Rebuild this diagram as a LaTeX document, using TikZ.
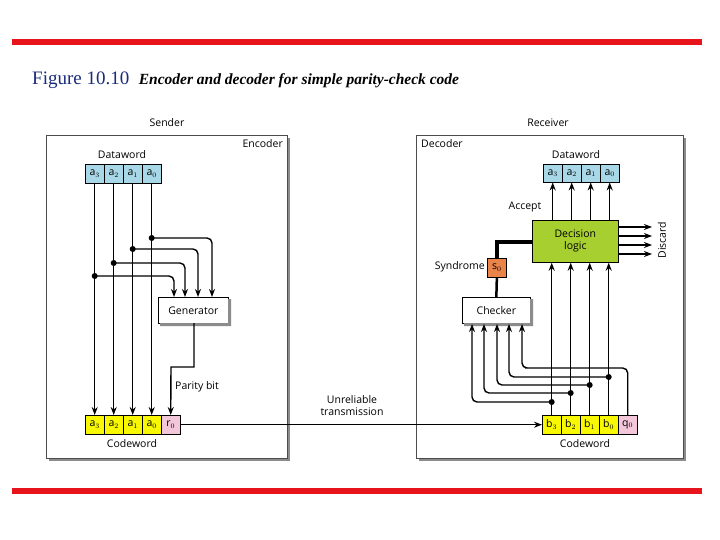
\documentclass[tikz,border=0pt]{standalone}
\usepackage{fontspec}
\setmainfont{Liberation Serif}
\newfontfamily\mysans{Open Sans}
\usetikzlibrary{arrows.meta}
\definecolor{cyanc}{HTML}{A8D8E8}
\definecolor{yelc}{HTML}{F8F800}
\definecolor{pinkc}{HTML}{F4C6DA}
\definecolor{grnc}{HTML}{A8CF30}
\definecolor{orgc}{HTML}{E8834A}
\definecolor{redbar}{HTML}{E8141C}
\definecolor{navy}{HTML}{1A2A7A}
\begin{document}
\begin{tikzpicture}[x=1pt,y=-1pt,
  lab/.style={font=\mysans\fontsize{10.5}{12}\selectfont,inner sep=0pt},
  cell/.style={draw,minimum width=19pt,minimum height=19pt,inner sep=0pt,font=\mysans\fontsize{10.5}{12}\selectfont,anchor=north west},
  panel/.style={draw=black!70,fill=white,line width=0.8pt},
  box/.style={draw,fill=white,line width=0.7pt,inner sep=0pt,anchor=north west,font=\mysans\fontsize{10.5}{12}\selectfont},
  wire/.style={line width=1.4pt,rounded corners=5pt},
  arr/.style={wire,-{Stealth[length=8pt,width=6pt]}},
  dot/.style={circle,fill,inner sep=0pt,minimum size=6pt}]
\useasboundingbox (0,0) rectangle (720,540);
\fill[redbar] (12,39) rectangle (702,45);
\fill[redbar] (12,488) rectangle (702,494);
\node[anchor=west,inner sep=0pt] (title) at (32,80) {\fontsize{19}{22}\selectfont\textcolor{navy}{Figure 10.10}\ \ \textbf{\textit{\fontsize{15.5}{18}\selectfont Encoder and decoder for simple parity-check code}}};
\node[lab] (sender) at (167,123) {Sender};
\node[lab] (receiver) at (548,123) {Receiver};
% panels
\fill[black!45] (49,138) rectangle (290,461);
\draw[panel] (46,135) rectangle (287,458);
\fill[black!45] (419,138) rectangle (686,461);
\draw[panel] (416,135) rectangle (683,458);
\node[lab,anchor=north east] (enc) at (283,139) {Encoder};
\node[lab,anchor=north west] (dec) at (421,139) {Decoder};
% ---- encoder
\node[lab] (dwl) at (122,155) {Dataword};
\foreach \i/\t in {0/3,1/2,2/1,3/0}{
  \node[cell,fill=cyanc] (da\t) at (85+19*\i,164) {a$_{\t}$};
  \node[cell,fill=yelc] (ca\t) at (85+19*\i,415) {a$_{\t}$};
}
\node[cell,fill=pinkc] (cr) at (161,415) {r$_0$};
\node[lab] (cwl) at (132,444) {Codeword};
\node[box,minimum width=70pt,minimum height=26pt] (gen) at (158,297) {Generator};
\fill[black!45] (160,323) rectangle (230,326) (228,299) rectangle (231,326);
\foreach \t in {0,1,2,3} \draw[arr] (da\t.south) -- (ca\t.north);
\node[dot] (e0) at (da0.south |- 0,238) {};
\node[dot] (e1) at (da1.south |- 0,249) {};
\node[dot] (e2) at (da2.south |- 0,263) {};
\node[dot] (e3) at (da3.south |- 0,276) {};
\draw[arr] (e0.center) -| (212,297);
\draw[arr] (e1.center) -| (198,297);
\draw[arr] (e2.center) -| (185,297);
\draw[arr] (e3.center) -| (174,297);
\draw[arr,rounded corners=0pt] (194,323) |- (171,367) -- (cr.north);
\node[lab,anchor=west] (pb) at (175,387) {Parity bit};
% transmission
\node[lab,align=center] (unrel) at (352,406) {Unreliable\\transmission};
% ---- decoder
\node[lab] (dwr) at (576,155) {Dataword};
\foreach \i/\t in {0/3,1/2,2/1,3/0}{
  \node[cell,fill=cyanc,minimum height=18pt] (ra\t) at (543+19*\i,164) {a$_{\t}$};
  \node[cell,fill=yelc] (cb\t) at (542+19*\i,415) {b$_{\t}$};
}
\node[cell,fill=pinkc] (cq) at (618,415) {q$_0$};
\node[lab] (cwr) at (585,444) {Codeword};
\draw[arr] (cr.east) -- (cb3.west);
\node[box,fill=grnc,minimum width=86pt,minimum height=42pt,align=center] (dl) at (532,220) {Decision\\logic};
\node[lab] (acc) at (525,207) {Accept};
\foreach \t in {0,1,2,3}{
  \draw[arr] (dl.north -| ra\t.south) -- (ra\t.south);
}
\foreach \y in {227,236,245,254} \draw[arr] (618,\y) -- (652,\y);
\node[lab,rotate=90] (disc) at (662,240) {Discard};
\node[box,fill=orgc,minimum width=19pt,minimum height=19pt] (s0) at (487,258) {s$_0$};
\node[lab,anchor=east] (syn) at (485,267) {Syndrome};
\draw[line width=3.5pt] (dl.west |- 0,242) -| (s0.north);
\node[box,minimum width=68pt,minimum height=26pt] (chk) at (462,297) {Checker};
\fill[black!45] (464,323) rectangle (532,326) (530,299) rectangle (533,326);
\draw[line width=2.5pt] (s0.south) -- (chk.north);
\foreach \t in {0,1,2,3} \draw[arr] (cb\t.north) -- (cb\t.north |- dl.south);
\node[dot] (d3) at (cb3.north |- 0,402) {};
\node[dot] (d2) at (cb2.north |- 0,393) {};
\node[dot] (d1) at (cb1.north |- 0,385) {};
\node[dot] (d0) at (cb0.north |- 0,377) {};
\draw[arr] (d3.center) -| (472,324);
\draw[arr] (d2.center) -| (484,324);
\draw[arr] (d1.center) -| (497,324);
\draw[arr] (d0.center) -| (509,324);
\draw[arr] (cq.north) |- (530,368) -| (522,324);
\end{tikzpicture}
\end{document}
